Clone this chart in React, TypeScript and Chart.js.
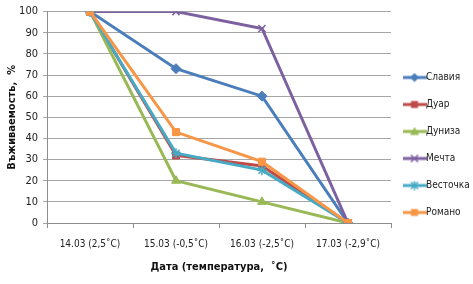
import React, { useEffect, useRef } from "react";
import { Chart, registerables } from "chart.js";

Chart.register(...registerables);

const categories = ["14.03 (2,5˚C)", "15.03 (-0,5˚C)", "16.03 (-2,5˚C)", "17.03 (-2,9˚C)"];
const seriesNames = ["Славия", "Дуар", "Дуниза", "Мечта", "Весточка", "Романо"];
const slavia = [100, 73, 60, 0];
const duar = [100, 32, 27, 0];
const duniza = [100, 20, 10, 0];
const mechta = [100, 100, 92, 0];
const vestochka = [100, 33, 25, 0];
const romano = [100, 43, 29, 0];
const seriesValues = [slavia, duar, duniza, mechta, vestochka, romano];
const seriesColors = ["#4A7EBB", "#BE4B48", "#98B954", "#7D60A0", "#46AAC5", "#F79646"];
const seriesMarkers = ["rectRot", "rect", "triangle", "crossRot", "star", "rect"];
const yTicks = [0, 10, 20, 30, 40, 50, 60, 70, 80, 90, 100];

const FONT = "'DejaVu Sans Condensed', 'Liberation Sans Narrow', 'Liberation Sans', sans-serif";

function legendIcon(color: string, marker: string): HTMLCanvasElement {
  const c = document.createElement("canvas");
  c.width = 24;
  c.height = 10;
  const ctx = c.getContext("2d")!;
  ctx.strokeStyle = color;
  ctx.fillStyle = color;
  ctx.lineWidth = 3;
  ctx.beginPath();
  ctx.moveTo(0, 5);
  ctx.lineTo(24, 5);
  ctx.stroke();
  ctx.lineWidth = 1.5;
  const cx = 12, cy = 5, r = 3.5;
  ctx.beginPath();
  if (marker === "rectRot") {
    ctx.moveTo(cx, cy - r - 1); ctx.lineTo(cx + r + 1, cy); ctx.lineTo(cx, cy + r + 1); ctx.lineTo(cx - r - 1, cy); ctx.closePath(); ctx.fill();
  } else if (marker === "rect") {
    ctx.rect(cx - r, cy - r, 2 * r, 2 * r); ctx.fill();
  } else if (marker === "triangle") {
    ctx.moveTo(cx, cy - r - 1); ctx.lineTo(cx + r + 1, cy + r); ctx.lineTo(cx - r - 1, cy + r); ctx.closePath(); ctx.fill();
  } else if (marker === "crossRot") {
    ctx.moveTo(cx - r, cy - r); ctx.lineTo(cx + r, cy + r); ctx.moveTo(cx + r, cy - r); ctx.lineTo(cx - r, cy + r); ctx.stroke();
  } else {
    ctx.moveTo(cx - r, cy - r); ctx.lineTo(cx + r, cy + r); ctx.moveTo(cx + r, cy - r); ctx.lineTo(cx - r, cy + r);
    ctx.moveTo(cx, cy - r - 1); ctx.lineTo(cx, cy + r + 1); ctx.stroke();
  }
  return c;
}

const legendWidthPlugin = {
  id: "legendWidth",
  beforeUpdate(chart: any) {
    const lg = chart.legend;
    if (lg && !lg.__patched) {
      const orig = lg.fit;
      lg.fit = function (this: any) {
        orig.call(this);
        this.width = 82;
      };
      lg.__patched = true;
    }
  },
};

export default function App() {
  const ref = useRef<HTMLCanvasElement | null>(null);
  useEffect(() => {
    if (!ref.current) return;
    const icons = seriesNames.map((_, i) => legendIcon(seriesColors[i], seriesMarkers[i]));
    const chart = new Chart(ref.current, {
      type: "line",
      data: {
        labels: categories,
        datasets: seriesNames.map((name, i) => ({
          label: name,
          data: seriesValues[i],
          borderColor: seriesColors[i],
          backgroundColor: seriesColors[i],
          borderWidth: 3,
          pointStyle: seriesMarkers[i] as any,
          pointRadius: 5,
          pointBorderWidth: seriesMarkers[i] === "crossRot" || seriesMarkers[i] === "star" ? 1.5 : 1,
          pointBackgroundColor: seriesColors[i],
          pointBorderColor: seriesColors[i],
          tension: 0,
          order: seriesNames.length - i,
        })),
      },
      plugins: [legendWidthPlugin],
      options: {
        responsive: false,
        animation: false,
        layout: { padding: { left: 2, top: 6, right: 0, bottom: 0 } },
        plugins: {
          tooltip: { enabled: false },
          legend: {
            position: "right",
            labels: {
              usePointStyle: true,
              pointStyleWidth: 13,
              padding: 17,
              color: "#222",
              font: { family: FONT, size: 10 },
              sort: (a: any, b: any) => a.datasetIndex - b.datasetIndex,
              generateLabels: (ch: any) =>
                ch.data.datasets.map((ds: any, i: number) => ({
                  text: ds.label,
                  pointStyle: icons[i],
                  fillStyle: seriesColors[i],
                  strokeStyle: seriesColors[i],
                  lineWidth: 0,
                  hidden: false,
                  datasetIndex: i,
                  fontColor: "#222",
                })),
            },
          },
        },
        scales: {
          x: {
            type: "category",
            offset: true,
            afterFit: (s: any) => {
              s.height = 61;
            },
            grid: {
              display: true,
              drawOnChartArea: false,
              drawTicks: true,
              tickLength: 5,
              offset: true,
              color: "#8c8c8c",
            },
            border: { color: "#8c8c8c", width: 1 },
            ticks: { color: "#222", font: { family: FONT, size: 10 }, padding: 10, maxRotation: 0 },
            title: {
              display: true,
              text: "Дата (температура,  ˚C)",
              color: "#111",
              font: { family: FONT, size: 11, weight: "bold" },
              padding: { top: 6, bottom: 10 },
            },
          },
          y: {
            min: 0,
            max: 100,
            afterBuildTicks: (s: any) => {
              s.ticks = yTicks.map((v) => ({ value: v }));
            },
            afterFit: (s: any) => {
              s.width = 45;
            },
            grid: { color: "#a6a6a6", tickLength: 4, lineWidth: 1 },
            border: { color: "#8c8c8c", width: 1 },
            ticks: { color: "#222", font: { family: FONT, size: 11 }, padding: 5 },
            title: {
              display: true,
              text: "Въживаемость,  %",
              color: "#111",
              font: { family: FONT, size: 11, weight: "bold" },
              padding: { top: 4, bottom: 4 },
            },
          },
        },
      },
    });
    return () => chart.destroy();
  }, []);
  return (
    <div style={{ position: "fixed", left: 0, top: 0, width: 473, height: 284, background: "#fff" }}>
      <canvas ref={ref} width={473} height={284} style={{ width: 473, height: 284, display: "block" }} />
    </div>
  );
}
